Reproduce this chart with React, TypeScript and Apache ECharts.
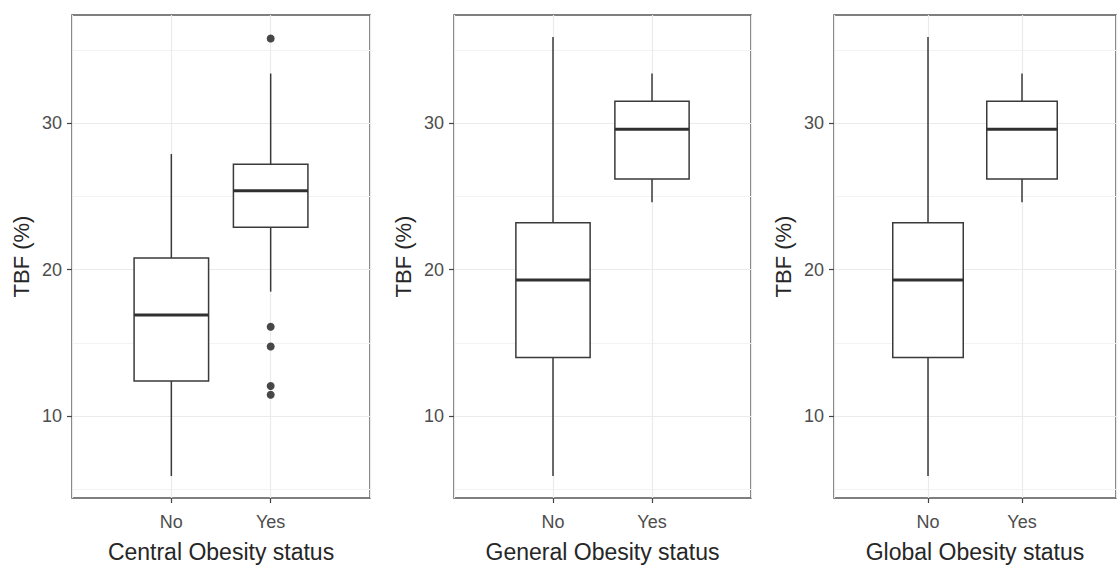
import React, { useEffect, useRef } from "react";
import * as echarts from "echarts";

// ---- data ----
const categories = ["", "No", "Yes", ""];
const yTickValues = [10, 20, 30];
const yMin = 4.4;
const yMax = 37.4;
const panelTitles = ["Central Obesity status", "General Obesity status", "Global Obesity status"];
const yTitle = "TBF (%)";

// [lower whisker, Q1, median, Q3, upper whisker]
const centralNo = [5.9, 12.4, 16.9, 20.8, 27.9];
const centralYes = [18.5, 22.9, 25.4, 27.2, 33.4];
const centralYesOutliers = [35.8, 16.1, 14.75, 12.05, 11.45];
const generalNo = [5.9, 14.0, 19.3, 23.2, 35.9];
const generalYes = [24.6, 26.2, 29.6, 31.5, 33.4];
const globalNo = [5.9, 14.0, 19.3, 23.2, 35.9];
const globalYes = [24.6, 26.2, 29.6, 31.5, 33.4];

const panelBoxes = [
  [centralNo, centralYes],
  [generalNo, generalYes],
  [globalNo, globalYes],
];
const panelOutliersYes = [centralYesOutliers, [], []];

const FONT = "'Liberation Sans', Arial, sans-serif";
const gridLayout = [
  { left: 72, top: 15, width: 298, height: 493 },
  { left: 454, top: 15, width: 297, height: 493 },
  { left: 834, top: 15, width: 300, height: 493 },
];

function renderBox(params: any, api: any) {
  const x = api.value(0);
  const lo = api.value(1);
  const q1 = api.value(2);
  const med = api.value(3);
  const q3 = api.value(4);
  const hi = api.value(5);
  const band = api.size([1, 0])[0];
  const hw = band * 0.375;
  const pLo = api.coord([x, lo]);
  const pQ1 = api.coord([x, q1]);
  const pMed = api.coord([x, med]);
  const pQ3 = api.coord([x, q3]);
  const pHi = api.coord([x, hi]);
  const cx = pMed[0];
  const stroke = "#3a3a3a";
  return {
    type: "group",
    children: [
      { type: "line", shape: { x1: cx, y1: pHi[1], x2: cx, y2: pQ3[1] }, style: { stroke, lineWidth: 1.5 } },
      { type: "line", shape: { x1: cx, y1: pQ1[1], x2: cx, y2: pLo[1] }, style: { stroke, lineWidth: 1.5 } },
      {
        type: "rect",
        shape: { x: cx - hw, y: pQ3[1], width: 2 * hw, height: pQ1[1] - pQ3[1] },
        style: { fill: "#ffffff", stroke, lineWidth: 1.5 },
      },
      {
        type: "line",
        shape: { x1: cx - hw, y1: pMed[1], x2: cx + hw, y2: pMed[1] },
        style: { stroke: "#303030", lineWidth: 3 },
      },
    ],
  };
}

export default function App() {
  const ref = useRef<HTMLDivElement>(null);
  useEffect(() => {
    if (!ref.current) return;
    const chart = echarts.init(ref.current, undefined, { renderer: "svg" });
    const idxNo = categories.indexOf("No");
    const idxYes = categories.indexOf("Yes");

    const grid = gridLayout.map((g) => ({
      ...g,
      show: true,
      borderColor: "#555555",
      borderWidth: 1.5,
      backgroundColor: "transparent",
    }));

    const xAxis = panelTitles.map((title, i) => ({
      type: "category",
      gridIndex: i,
      data: categories,
      boundaryGap: false,
      name: title,
      nameLocation: "middle",
      nameGap: 42,
      nameTextStyle: { fontSize: 23, color: "#262626", fontFamily: FONT },
      axisLine: { show: false },
      axisTick: {
        show: true,
        length: 5,
        interval: (idx: number) => idx === idxNo || idx === idxYes,
        lineStyle: { color: "#444444", width: 1.2 },
      },
      axisLabel: { fontSize: 18, color: "#4d4d4d", margin: 15, interval: 0, fontFamily: FONT },
      splitLine: { show: true, lineStyle: { color: "#ebebeb", width: 1.2 } },
    }));

    const yAxis = panelTitles.map((_, i) => ({
      type: "value",
      gridIndex: i,
      min: yMin,
      max: yMax,
      splitNumber: 3,
      name: yTitle,
      nameLocation: "middle",
      nameGap: 40,
      nameTextStyle: { fontSize: 22, color: "#262626", fontFamily: FONT },
      axisLine: { show: false },
      axisTick: { show: true, length: 5, customValues: yTickValues, lineStyle: { color: "#444444", width: 1.2 } },
      axisLabel: { customValues: yTickValues, fontSize: 18, color: "#4d4d4d", margin: 10, fontFamily: FONT },
      splitLine: { show: true, lineStyle: { color: "#ebebeb", width: 1.2 } },
      minorTick: { show: false, splitNumber: 2 },
      minorSplitLine: { show: true, lineStyle: { color: "#f3f3f3", width: 1 } },
    }));

    const series: any[] = [];
    panelBoxes.forEach((boxes, i) => {
      series.push({
        type: "custom",
        xAxisIndex: i,
        yAxisIndex: i,
        renderItem: renderBox,
        encode: { x: 0, y: [1, 2, 3, 4, 5] },
        data: [
          [idxNo, ...boxes[0]],
          [idxYes, ...boxes[1]],
        ],
        z: 3,
      });
      if (panelOutliersYes[i].length) {
        series.push({
          type: "scatter",
          xAxisIndex: i,
          yAxisIndex: i,
          symbol: "circle",
          symbolSize: 8,
          itemStyle: { color: "#1a1a1a" },
          data: panelOutliersYes[i].map((v) => [idxYes, v]),
          z: 4,
        });
      }
    });

    chart.setOption({
      animation: false,
      backgroundColor: "#ffffff",
      textStyle: { fontFamily: FONT },
      grid,
      xAxis,
      yAxis,
      series,
    });
    return () => chart.dispose();
  }, []);

  return (
    <div
      ref={ref}
      style={{ position: "absolute", left: 0, top: 0, width: 1119, height: 568, overflow: "hidden" }}
    />
  );
}
